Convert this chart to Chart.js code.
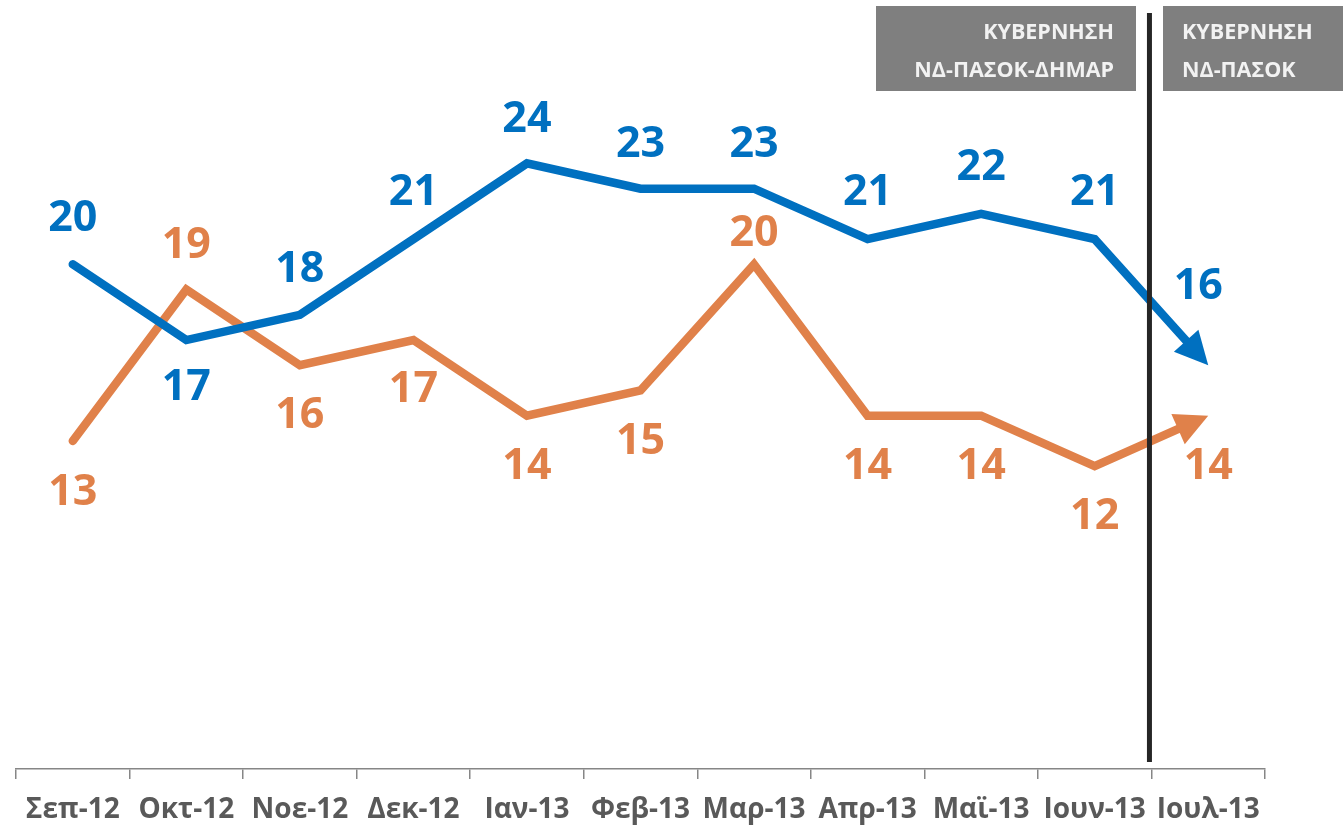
<!DOCTYPE html>
<html>
<head>
<meta charset="utf-8">
<script src="https://cdn.jsdelivr.net/npm/chart.js@4.4.0/dist/chart.umd.min.js"></script>
<style>
  body { margin: 0; background: #fff; }
  #wrap { width: 1344px; height: 827px; position: relative; }
</style>
</head>
<body>
<div id="wrap"><canvas id="chart"></canvas></div>
<script>
const months = ['Σεπ-12', 'Οκτ-12', 'Νοε-12', 'Δεκ-12', 'Ιαν-13', 'Φεβ-13', 'Μαρ-13', 'Απρ-13', 'Μαϊ-13', 'Ιουν-13', 'Ιουλ-13'];
const blueValues = [20, 17, 18, 21, 24, 23, 23, 21, 22, 21, 16];
const orangeValues = [13, 19, 16, 17, 14, 15, 20, 14, 14, 12, 14];
const boxTexts = [['ΚΥΒΕΡΝΗΣΗ', 'ΝΔ-ΠΑΣΟΚ-ΔΗΜΑΡ'], ['ΚΥΒΕΡΝΗΣΗ', 'ΝΔ-ΠΑΣΟΚ']];

const BLUE = '#0070C0';
const ORANGE = '#E0814A';
const FONT = '"Open Sans", "Noto Sans", sans-serif';
const ARROW_LEN = 33;
const ARROW_HALF = 16.5;

// label offsets from the point (dx, dy), one per month
const blueLabelPos = [[0,-46],[0,48],[0,-45],[0,-46],[0,-44],[0,-44],[0,-44],[0,-46],[0,-46],[0,-46],[-10,-79]];
const orangeLabelPos = [[0,52],[0,-44],[0,50],[0,50],[0,51],[0,51],[0,-31],[0,51],[0,51],[0,51],[0,51]];

function arrowGeom(chart, i) {
    const pts = chart.getDatasetMeta(i).data;
    const a = pts[pts.length - 2], b = pts[pts.length - 1];
    const dx = b.x - a.x, dy = b.y - a.y;
    const len = Math.sqrt(dx * dx + dy * dy);
    return { tip: b, ux: dx / len, uy: dy / len };
}

const arrowPlugin = {
    id: 'arrows',
    beforeDatasetDraw(chart, args) {
        // keep the line out of the arrowhead area
        const g = arrowGeom(chart, args.index);
        const cx = g.tip.x - g.ux * (ARROW_LEN - 3), cy = g.tip.y - g.uy * (ARROW_LEN - 3);
        const px = -g.uy * 25, py = g.ux * 25;
        const ctx = chart.ctx;
        ctx.save();
        ctx.beginPath();
        ctx.rect(0, 0, chart.width, chart.height);
        ctx.moveTo(cx + px, cy + py);
        ctx.lineTo(cx + px + g.ux * 50, cy + py + g.uy * 50);
        ctx.lineTo(cx - px + g.ux * 50, cy - py + g.uy * 50);
        ctx.lineTo(cx - px, cy - py);
        ctx.closePath();
        ctx.clip('evenodd');
    },
    afterDatasetDraw(chart, args) {
        const ctx = chart.ctx;
        ctx.restore();
        const g = arrowGeom(chart, args.index);
        const baseX = g.tip.x - g.ux * ARROW_LEN, baseY = g.tip.y - g.uy * ARROW_LEN;
        ctx.save();
        ctx.fillStyle = chart.data.datasets[args.index].borderColor;
        ctx.beginPath();
        ctx.moveTo(g.tip.x, g.tip.y);
        ctx.lineTo(baseX - g.uy * ARROW_HALF, baseY + g.ux * ARROW_HALF);
        ctx.lineTo(baseX + g.uy * ARROW_HALF, baseY - g.ux * ARROW_HALF);
        ctx.closePath();
        ctx.fill();
        ctx.restore();
    }
};

const extrasPlugin = {
    id: 'extras',
    afterDatasetsDraw(chart) {
        const ctx = chart.ctx;
        const x = chart.scales.x;
        const area = chart.chartArea;

        // value labels
        const offsets = [blueLabelPos, orangeLabelPos];
        chart.data.datasets.forEach((ds, i) => {
            const pts = chart.getDatasetMeta(i).data;
            ctx.save();
            ctx.font = 'bold 43px ' + FONT;
            ctx.fillStyle = ds.borderColor;
            ctx.textAlign = 'center';
            ctx.textBaseline = 'middle';
            pts.forEach((p, j) => {
                const o = offsets[i][j];
                ctx.fillText(String(ds.data[j]), p.x + o[0], p.y + o[1]);
            });
            ctx.restore();
        });

        // government change line between Ιουν-13 and Ιουλ-13
        const lineX = (x.getPixelForValue(9) + x.getPixelForValue(10)) / 2 - 2;
        ctx.save();
        ctx.strokeStyle = '#262626';
        ctx.lineWidth = 5;
        ctx.beginPath();
        ctx.moveTo(lineX, 13);
        ctx.lineTo(lineX, area.bottom - 7);
        ctx.stroke();

        // gray boxes
        ctx.fillStyle = '#7F7F7F';
        ctx.fillRect(876, 6, 260, 85);
        ctx.fillRect(1163, 6, 180, 85);
        ctx.fillStyle = '#F2F2F2';
        ctx.font = 'bold 21.5px ' + FONT;
        ctx.textBaseline = 'middle';
        ctx.textAlign = 'right';
        ctx.fillText(boxTexts[0][0], 1114, 33);
        ctx.fillText(boxTexts[0][1], 1114, 71);
        ctx.textAlign = 'left';
        ctx.fillText(boxTexts[1][0], 1182, 33);
        ctx.fillText(boxTexts[1][1], 1182, 71);
        ctx.restore();
    }
};

new Chart(document.getElementById('chart'), {
    type: 'line',
    data: {
        labels: months,
        datasets: [
            {
                data: blueValues,
                borderColor: BLUE,
                backgroundColor: BLUE,
                borderWidth: 8.5,
                borderCapStyle: 'round',
                borderJoinStyle: 'miter',
                pointRadius: 0,
                tension: 0
            },
            {
                data: orangeValues,
                borderColor: ORANGE,
                backgroundColor: ORANGE,
                borderWidth: 8.5,
                borderCapStyle: 'round',
                borderJoinStyle: 'miter',
                pointRadius: 0,
                tension: 0
            }
        ]
    },
    options: {
        responsive: true,
        maintainAspectRatio: false,
        animation: false,
        layout: { padding: { left: 16, right: 79, top: 12, bottom: 0 } },
        plugins: {
            legend: { display: false },
            tooltip: { enabled: false }
        },
        scales: {
            x: {
                offset: true,
                grid: {
                    offset: true,
                    drawOnChartArea: false,
                    drawTicks: true,
                    tickLength: 10,
                    color: '#868686',
                    lineWidth: 1.5
                },
                border: { color: '#868686', width: 1.5 },
                ticks: {
                    color: '#595959',
                    padding: 14,
                    font: { family: FONT, size: 28, weight: 'bold' },
                    maxRotation: 0,
                    autoSkip: false
                },
                afterFit(scale) { scale.height = 58; }
            },
            y: {
                display: false,
                min: 0,
                max: 30
            }
        }
    },
    plugins: [arrowPlugin, extrasPlugin]
});
</script>
</body>
</html>
